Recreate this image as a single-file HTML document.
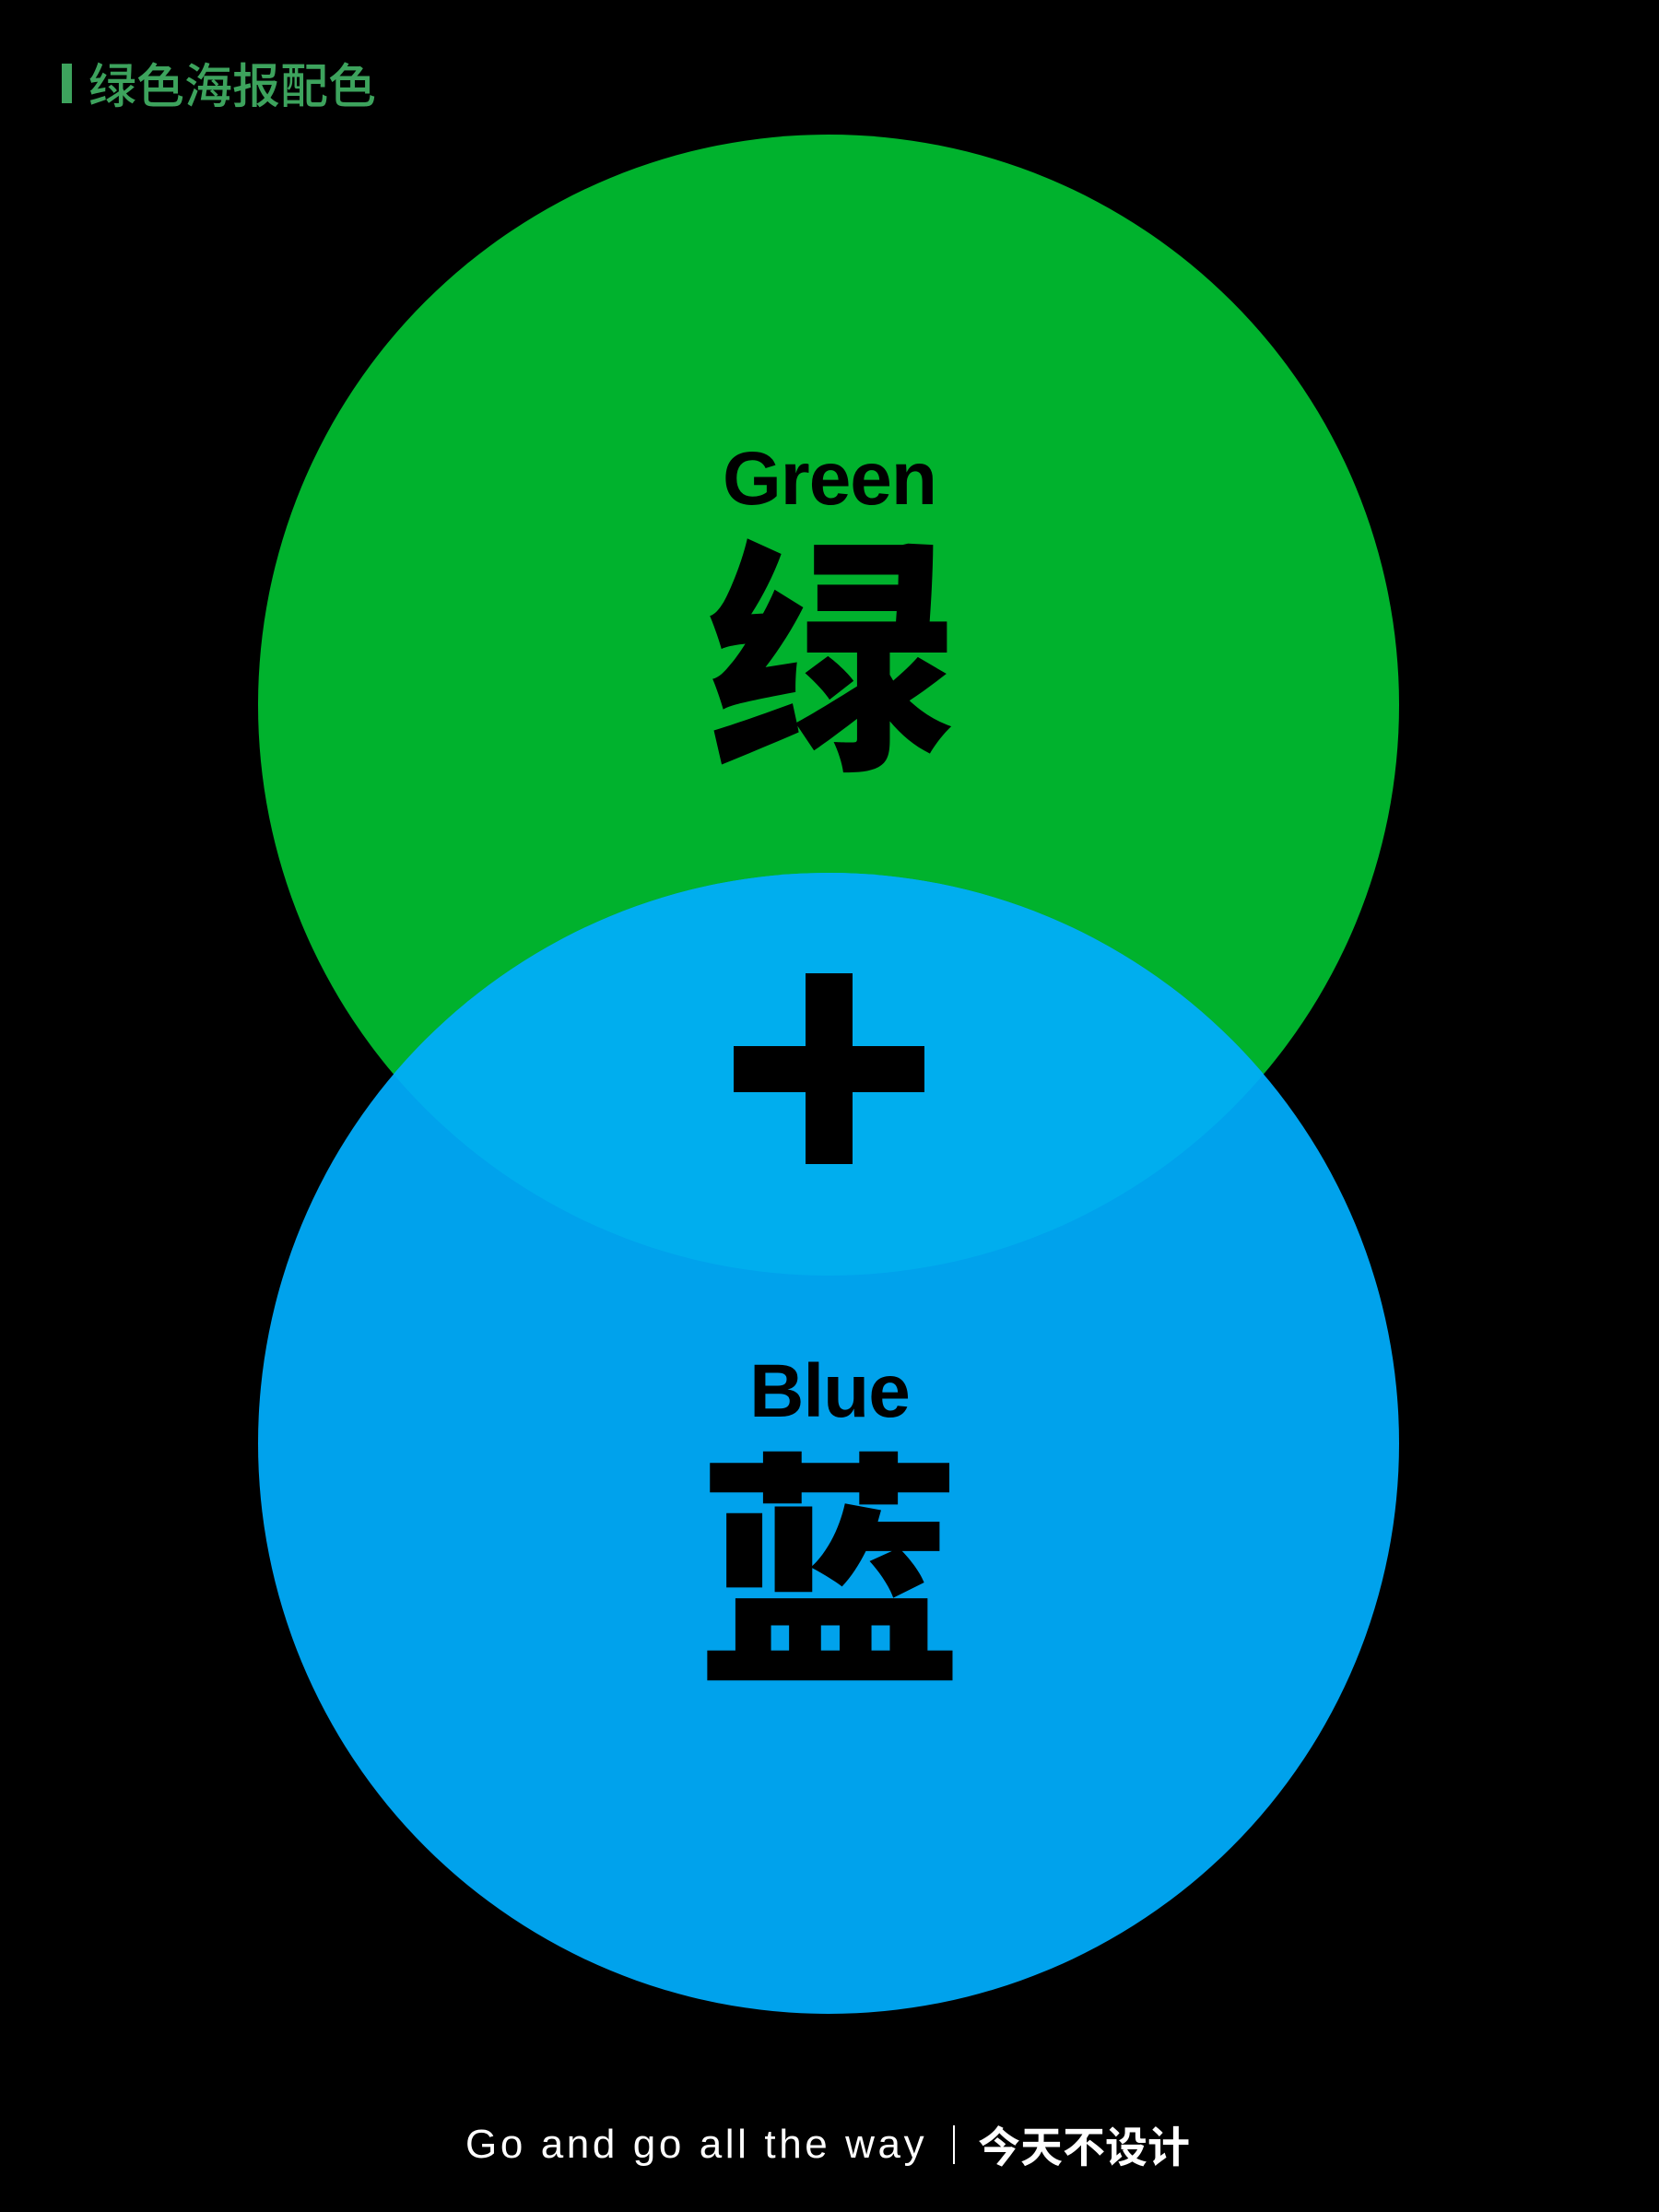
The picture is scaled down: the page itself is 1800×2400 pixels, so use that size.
<!DOCTYPE html>
<html><head><meta charset="utf-8"><style>
html,body{margin:0;padding:0;background:#000;}
body{width:1800px;height:2400px;position:relative;overflow:hidden;font-family:"Liberation Sans","Noto Sans CJK SC",sans-serif;}
.t{position:absolute;white-space:nowrap;}
</style></head><body>
<svg width="1800" height="2400" style="position:absolute;left:0;top:0">
<defs><clipPath id="g"><circle cx="899" cy="765" r="619"/></clipPath></defs>
<circle cx="899" cy="765" r="619" fill="#00B22D"/>
<circle cx="899" cy="1566" r="619" fill="#00A2EC"/>
<circle cx="899" cy="1566" r="619" fill="#00AEEE" clip-path="url(#g)"/>
<rect x="796" y="1135" width="207" height="50" fill="#000"/>
<rect x="874" y="1056" width="51" height="207" fill="#000"/>
<rect x="67" y="69" width="11" height="43" fill="#3DA35D"/>
<line x1="1035" y1="2306" x2="1035" y2="2348" stroke="#fff" stroke-width="2"/>
</svg>
<div class="t" style="left:96px;top:57px;font-size:52px;font-weight:500;color:#3DA35D;font-family:'Noto Sans CJK SC',sans-serif;line-height:66px">绿色海报配色</div>
<div class="t" style="left:0;width:1800px;text-align:center;top:470px;font-size:82px;font-weight:bold;line-height:100px;color:#000;letter-spacing:-1px">Green</div>
<div class="t" style="left:0;width:1800px;text-align:center;top:547px;font-size:267px;font-weight:900;line-height:300px;color:#000;font-family:'Noto Sans CJK SC',sans-serif">绿</div>
<div class="t" style="left:0;width:1800px;text-align:center;top:1460px;font-size:82px;font-weight:bold;line-height:100px;color:#000;letter-spacing:-1px">Blue</div>
<div class="t" style="left:0;width:1800px;text-align:center;top:1537px;font-size:267px;font-weight:900;line-height:300px;color:#000;font-family:'Noto Sans CJK SC',sans-serif;transform:scaleX(1.08)">蓝</div>
<div class="t" style="left:505px;top:2300px;font-size:44px;letter-spacing:3.6px;color:#fff;line-height:54px">Go and go all the way</div>
<div class="t" style="left:1061px;top:2297px;font-size:46px;font-weight:bold;color:#fff;line-height:60px;font-family:'Noto Sans CJK SC',sans-serif;letter-spacing:0px">今天不设计</div>
</body></html>
